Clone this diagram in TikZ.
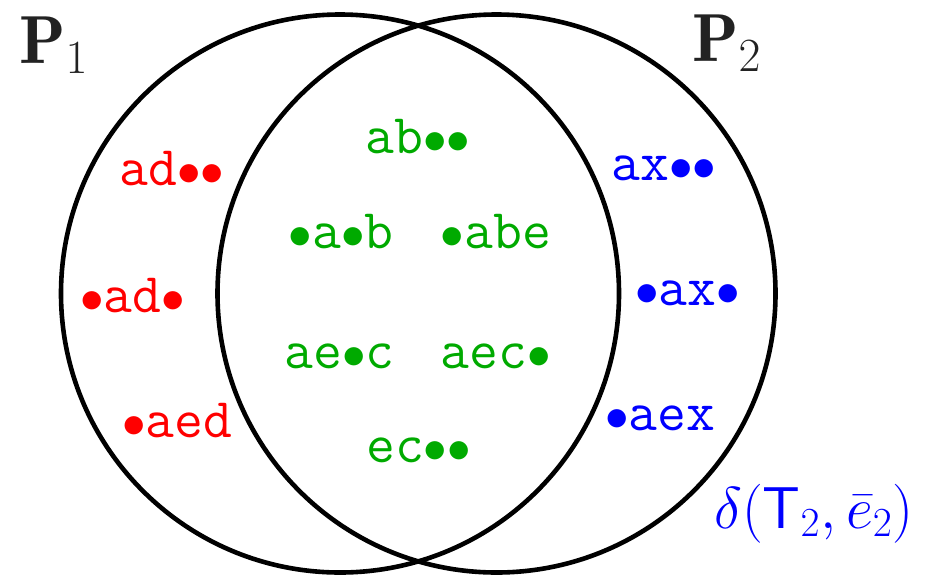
\documentclass[tikz,border=0pt]{standalone}
\usepackage{fix-cm}
\usepackage{fontspec}
\definecolor{tgreen}{RGB}{0,170,0}
\definecolor{tred}{RGB}{255,0,0}
\definecolor{tblue}{RGB}{0,0,255}
\definecolor{pgray}{RGB}{34,34,34}
\newcommand{\bt}{{\fontsize{47}{56}\selectfont$\bullet$}}
\tikzset{
  venn/.style={line width=4.6pt, draw=black},
  word/.style={anchor=base, inner sep=0pt, font=\fontsize{56}{66}\selectfont\ttfamily},
  rword/.style={word, text=tred},
  gword/.style={word, text=tgreen},
  bword/.style={word, text=tblue},
  setlabel/.style={anchor=base west, inner sep=0pt, text=pgray, font=\fontsize{68}{78}\selectfont},
}
\begin{document}
\begin{tikzpicture}[x=1pt,y=-1pt]
\useasboundingbox (0,0) rectangle (933,579);
\coordinate (c1) at (340,293.5);
\coordinate (c2) at (496.5,293.5);
\draw[venn] (c1) circle[radius=279pt];
\draw[venn] (c2) circle[radius=279pt];

\node[setlabel] (p1) at (19,63) {$\mathbf{P}_1$};
\node[setlabel] (p2) at (692,61) {$\mathbf{P}_2$};

\node[rword] (r1) at (172,185) {ad\bt\bt};
\node[rword] (r2) at (132.5,312) {\bt ad\bt};
\node[rword] (r3) at (177.5,437) {\bt aed};

\node[gword] (g1) at (418,153) {ab\bt\bt};
\node[gword] (g2) at (341,248) {\bt a\bt b};
\node[gword] (g3) at (496,248) {\bt abe};
\node[gword] (g4) at (339.5,368) {ae\bt c};
\node[gword] (g5) at (496,368) {aec\bt};
\node[gword] (g6) at (418.5,462) {ec\bt\bt};

\node[bword] (b1) at (664,180) {ax\bt\bt};
\node[bword] (b2) at (687.5,305) {\bt ax\bt};
\node[bword] (b3) at (660,430) {\bt aex};

\node[anchor=base west, inner sep=0pt, text=tblue, font=\fontsize{59}{69}\selectfont] (d) at (714,528) {$\delta(\mathsf{T}_2,\bar{e}_2)$};
\end{tikzpicture}
\end{document}
